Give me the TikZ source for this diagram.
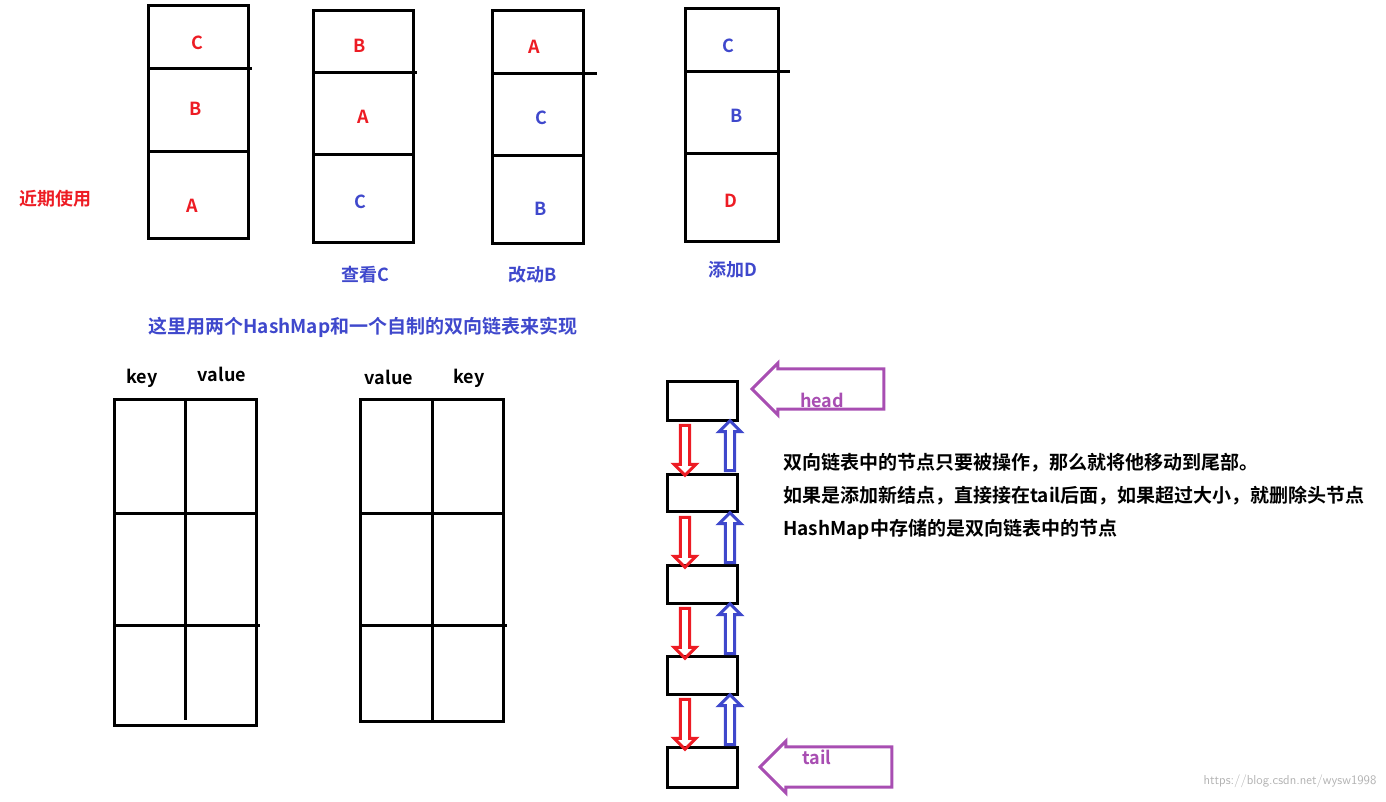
\documentclass[tikz,border=0pt]{standalone}
\usepackage{fontspec}
\newfontfamily\cjk{Noto Sans CJK SC Bold}
\usetikzlibrary{shapes.arrows}
\definecolor{rd}{RGB}{237,28,36}
\definecolor{bl}{RGB}{63,72,204}
\definecolor{pu}{RGB}{168,78,178}
\tikzset{
  box/.style={draw=black, line width=3pt},
  lbl/.style={font=\cjk\fontsize{18}{18}\selectfont, inner sep=0pt},
  wide/.style={font=\cjk\fontsize{19}{19}\selectfont, inner sep=0pt},
  dnarr/.style={single arrow, draw=rd, line width=3pt, minimum height=50pt, minimum width=22pt, single arrow head extend=5pt, inner sep=2pt, shape border rotate=270},
  uparr/.style={single arrow, draw=bl, line width=3pt, minimum height=50pt, minimum width=22pt, single arrow head extend=5pt, inner sep=2pt, shape border rotate=90},
  bigarr/.style={single arrow, draw=pu, line width=3pt, minimum height=132pt, minimum width=52pt, single arrow head extend=4pt, inner sep=12pt, shape border rotate=180}
}
\begin{document}
\begin{tikzpicture}[x=1pt,y=-1pt]
\useasboundingbox (0,0) rectangle (1386,801);
% stacks
\draw[box] (148,5) rectangle (248,238); \draw[box] (148,68) -- (252,68); \draw[box] (148,151) -- (248,151);
\draw[box] (313,10) rectangle (413,242); \draw[box] (313,72) -- (417,72); \draw[box] (313,154) -- (413,154);
\draw[box] (492,10) rectangle (583,243); \draw[box] (492,73) -- (597,73); \draw[box] (492,155) -- (583,155);
\draw[box] (685,8) rectangle (778,241); \draw[box] (685,71) -- (790,71); \draw[box] (685,153) -- (778,153);
\node[lbl, text=rd] (s1c) at (197,43) {C};
\node[lbl, text=rd] (s1b) at (196,109) {B};
\node[lbl, text=rd] (s1a) at (192,206) {A};
\node[lbl, text=rd] (s2b) at (360,46) {B};
\node[lbl, text=rd] (s2a) at (363,117) {A};
\node[lbl, text=bl] (s2c) at (360,202) {C};
\node[lbl, text=rd] (s3a) at (534,47) {A};
\node[lbl, text=bl] (s3c) at (541,118) {C};
\node[lbl, text=bl] (s3b) at (541,209) {B};
\node[lbl, text=bl] (s4c) at (728,46) {C};
\node[lbl, text=bl] (s4b) at (737,116) {B};
\node[lbl, text=rd] (s4d) at (731,201) {D};
\node[lbl, text=rd] (recent) at (55,199) {近期使用};
\node[lbl, text=bl] (view) at (365,275) {查看C};
\node[lbl, text=bl] (change) at (533,275) {改动B};
\node[lbl, text=bl] (add) at (733,270) {添加D};
\node[wide, text=bl] (how) at (363,327) {这里用两个HashMap和一个自制的双向链表来实现};
% hash tables
\draw[box] (114,399) rectangle (256,725); \draw[box] (185,399) -- (185,720);
\draw[box] (114,513) -- (256,513); \draw[box] (114,625) -- (260,625);
\node[lbl] (k1) at (142,378) {key};
\node[lbl] (v1) at (222,374) {value};
\draw[box] (360,399) rectangle (503,721); \draw[box] (432,399) -- (432,721);
\draw[box] (360,513) -- (503,513); \draw[box] (360,625) -- (507,625);
\node[lbl] (v2) at (389,377) {value};
\node[lbl] (k2) at (469,378) {key};
% linked list
\foreach \i/\a/\b in {1/381/420, 2/474/511, 3/565/603, 4/656/694, 5/747/787}
  \draw[box] (667,\a) rectangle (737,\b) coordinate (n\i);
\foreach \y in {448, 540, 631, 722} {
  \node[dnarr] at (685,\y) {};
  \node[uparr] at (730,\y) {};
}
\node[bigarr] (harr) at (828,389) {};
\node[lbl, text=pu] (head) at (822,400) {head};
\node[bigarr] (tarr) at (836,767) {};
\node[lbl, text=pu] (tail) at (817,757) {tail};
\node[wide, anchor=west] (t1) at (783,463) {双向链表中的节点只要被操作，那么就将他移动到尾部。};
\node[wide, anchor=west] (t2) at (783,496) {如果是添加新结点，直接接在tail后面，如果超过大小，就删除头节点};
\node[wide, anchor=west] (t3) at (783,529) {HashMap中存储的是双向链表中的节点};
\node[text=black!30, font=\sffamily\fontsize{13}{13}\selectfont, anchor=east] (wm) at (1380,781) {https://blog.csdn.net/wysw1998};
\end{tikzpicture}
\end{document}
